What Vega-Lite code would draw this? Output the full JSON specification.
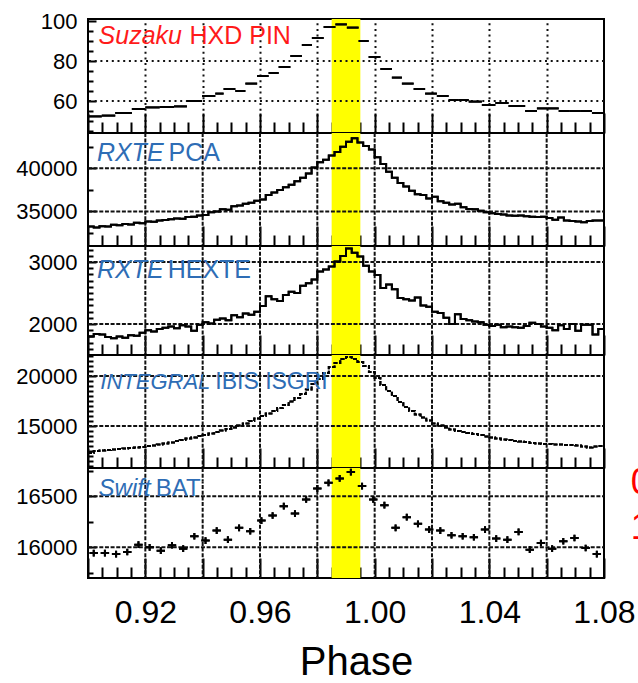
{
  "$schema": "https://vega.github.io/schema/vega-lite/v6.json",
  "padding": {"left": 14, "top": 9, "right": 0, "bottom": 0},
  "spacing": 0,
  "bounds": "flush",
  "config": {
    "view": {"stroke": "black", "strokeWidth": 2},
    "font": "Liberation Sans",
    "axis": {
      "domain": false,
      "grid": false,
      "tickColor": "black",
      "labelColor": "black",
      "labelFont": "Liberation Sans",
      "titleFont": "Liberation Sans",
      "zindex": 1,
      "labelOverlap": false,
      "labelFlush": false,
      "labelBound": false
    }
  },
  "datasets": {
    "band": [{"lo": 0.985, "hi": 0.995}],
    "suzaku": [
      {"lo": 0.9, "hi": 0.9048, "v": 52.3}, {"lo": 0.9048, "hi": 0.9095, "v": 52.7},
      {"lo": 0.9095, "hi": 0.9153, "v": 54}, {"lo": 0.9153, "hi": 0.92, "v": 56},
      {"lo": 0.92, "hi": 0.925, "v": 56.8}, {"lo": 0.925, "hi": 0.93, "v": 57},
      {"lo": 0.93, "hi": 0.9345, "v": 57.3}, {"lo": 0.9345, "hi": 0.9398, "v": 60},
      {"lo": 0.9398, "hi": 0.9444, "v": 62.5}, {"lo": 0.9444, "hi": 0.9473, "v": 63.7},
      {"lo": 0.9473, "hi": 0.9514, "v": 66}, {"lo": 0.9514, "hi": 0.9549, "v": 65},
      {"lo": 0.9549, "hi": 0.959, "v": 68.7}, {"lo": 0.959, "hi": 0.963, "v": 72.5},
      {"lo": 0.963, "hi": 0.9665, "v": 74}, {"lo": 0.9665, "hi": 0.9706, "v": 77},
      {"lo": 0.9706, "hi": 0.9746, "v": 82.5}, {"lo": 0.9746, "hi": 0.9781, "v": 88},
      {"lo": 0.9781, "hi": 0.9822, "v": 91.5}, {"lo": 0.9822, "hi": 0.9863, "v": 97},
      {"lo": 0.9863, "hi": 0.9903, "v": 98.3}, {"lo": 0.9903, "hi": 0.9944, "v": 96.7},
      {"lo": 0.9944, "hi": 0.9979, "v": 90}, {"lo": 0.9979, "hi": 1.002, "v": 82},
      {"lo": 1.002, "hi": 1.006, "v": 76}, {"lo": 1.006, "hi": 1.0095, "v": 71.7},
      {"lo": 1.0095, "hi": 1.0136, "v": 68.7}, {"lo": 1.0136, "hi": 1.0176, "v": 66},
      {"lo": 1.0176, "hi": 1.0217, "v": 63.7}, {"lo": 1.0217, "hi": 1.0258, "v": 62.5},
      {"lo": 1.0258, "hi": 1.0293, "v": 60.5}, {"lo": 1.0293, "hi": 1.0328, "v": 60.5},
      {"lo": 1.0328, "hi": 1.0374, "v": 59.7}, {"lo": 1.0374, "hi": 1.0421, "v": 58},
      {"lo": 1.0421, "hi": 1.0467, "v": 59}, {"lo": 1.0467, "hi": 1.0525, "v": 57.5},
      {"lo": 1.0525, "hi": 1.0566, "v": 55}, {"lo": 1.0566, "hi": 1.0604, "v": 56.3},
      {"lo": 1.0604, "hi": 1.0642, "v": 56.3}, {"lo": 1.0642, "hi": 1.068, "v": 55},
      {"lo": 1.068, "hi": 1.0719, "v": 55}, {"lo": 1.0719, "hi": 1.0758, "v": 55},
      {"lo": 1.0758, "hi": 1.08, "v": 54}
    ],
    "pca": [
      {"p": 0.900, "v": 33250}, {"p": 0.902, "v": 33150}, {"p": 0.904, "v": 33300}, {"p": 0.906, "v": 33250},
      {"p": 0.908, "v": 33450}, {"p": 0.910, "v": 33400}, {"p": 0.912, "v": 33550}, {"p": 0.914, "v": 33500},
      {"p": 0.916, "v": 33700}, {"p": 0.918, "v": 33650}, {"p": 0.920, "v": 33850}, {"p": 0.922, "v": 33800},
      {"p": 0.924, "v": 33950}, {"p": 0.926, "v": 34000}, {"p": 0.928, "v": 34100}, {"p": 0.930, "v": 34200},
      {"p": 0.932, "v": 34150}, {"p": 0.934, "v": 34350}, {"p": 0.936, "v": 34400}, {"p": 0.938, "v": 34550},
      {"p": 0.940, "v": 34600}, {"p": 0.942, "v": 34900}, {"p": 0.944, "v": 35000}, {"p": 0.946, "v": 35250},
      {"p": 0.948, "v": 35200}, {"p": 0.950, "v": 35600}, {"p": 0.952, "v": 35700}, {"p": 0.954, "v": 35900},
      {"p": 0.956, "v": 36000}, {"p": 0.958, "v": 36250}, {"p": 0.960, "v": 36400}, {"p": 0.962, "v": 36900},
      {"p": 0.964, "v": 37200}, {"p": 0.966, "v": 37500}, {"p": 0.968, "v": 37800}, {"p": 0.970, "v": 38100},
      {"p": 0.972, "v": 38500}, {"p": 0.974, "v": 38900}, {"p": 0.976, "v": 39400}, {"p": 0.978, "v": 40100},
      {"p": 0.980, "v": 40700}, {"p": 0.982, "v": 41000}, {"p": 0.984, "v": 41500}, {"p": 0.986, "v": 41900},
      {"p": 0.988, "v": 42500}, {"p": 0.990, "v": 43100}, {"p": 0.992, "v": 43500}, {"p": 0.994, "v": 43000},
      {"p": 0.996, "v": 42600}, {"p": 0.998, "v": 42200}, {"p": 1.000, "v": 41300}, {"p": 1.002, "v": 40500},
      {"p": 1.004, "v": 39600}, {"p": 1.006, "v": 38900}, {"p": 1.008, "v": 38300}, {"p": 1.010, "v": 37900},
      {"p": 1.012, "v": 37400}, {"p": 1.014, "v": 37000}, {"p": 1.016, "v": 36900}, {"p": 1.018, "v": 36500},
      {"p": 1.020, "v": 36700}, {"p": 1.022, "v": 36200}, {"p": 1.024, "v": 36000}, {"p": 1.026, "v": 35800},
      {"p": 1.028, "v": 35900}, {"p": 1.030, "v": 35500}, {"p": 1.032, "v": 35300}, {"p": 1.034, "v": 35250},
      {"p": 1.036, "v": 35100}, {"p": 1.038, "v": 34900}, {"p": 1.040, "v": 34800}, {"p": 1.042, "v": 34700},
      {"p": 1.044, "v": 34650}, {"p": 1.046, "v": 34550}, {"p": 1.048, "v": 34500}, {"p": 1.050, "v": 34550},
      {"p": 1.052, "v": 34450}, {"p": 1.054, "v": 34400}, {"p": 1.056, "v": 34350}, {"p": 1.058, "v": 34400},
      {"p": 1.060, "v": 34250}, {"p": 1.062, "v": 34050}, {"p": 1.064, "v": 34300}, {"p": 1.066, "v": 33950},
      {"p": 1.068, "v": 33900}, {"p": 1.070, "v": 33850}, {"p": 1.072, "v": 33750}, {"p": 1.074, "v": 33900},
      {"p": 1.076, "v": 33950}, {"p": 1.078, "v": 33950}, {"p": 1.080, "v": 33950}
    ],
    "hexte": [
      {"p": 0.900, "v": 1800}, {"p": 0.902, "v": 1840}, {"p": 0.904, "v": 1830}, {"p": 0.906, "v": 1790},
      {"p": 0.908, "v": 1770}, {"p": 0.910, "v": 1800}, {"p": 0.912, "v": 1780}, {"p": 0.914, "v": 1820},
      {"p": 0.916, "v": 1810}, {"p": 0.918, "v": 1860}, {"p": 0.920, "v": 1900}, {"p": 0.922, "v": 1880},
      {"p": 0.924, "v": 1920}, {"p": 0.926, "v": 1940}, {"p": 0.928, "v": 1960}, {"p": 0.930, "v": 1930},
      {"p": 0.932, "v": 1980}, {"p": 0.934, "v": 1960}, {"p": 0.936, "v": 1890}, {"p": 0.938, "v": 1990},
      {"p": 0.940, "v": 2030}, {"p": 0.942, "v": 2010}, {"p": 0.944, "v": 2070}, {"p": 0.946, "v": 2090},
      {"p": 0.948, "v": 2060}, {"p": 0.950, "v": 2140}, {"p": 0.952, "v": 2110}, {"p": 0.954, "v": 2170},
      {"p": 0.956, "v": 2150}, {"p": 0.958, "v": 2200}, {"p": 0.960, "v": 2290}, {"p": 0.962, "v": 2450},
      {"p": 0.964, "v": 2400}, {"p": 0.966, "v": 2370}, {"p": 0.968, "v": 2470}, {"p": 0.970, "v": 2520},
      {"p": 0.972, "v": 2500}, {"p": 0.974, "v": 2620}, {"p": 0.976, "v": 2660}, {"p": 0.978, "v": 2720},
      {"p": 0.980, "v": 2850}, {"p": 0.982, "v": 2880}, {"p": 0.984, "v": 2930}, {"p": 0.986, "v": 3010},
      {"p": 0.988, "v": 3100}, {"p": 0.990, "v": 3220}, {"p": 0.992, "v": 3150}, {"p": 0.994, "v": 3090},
      {"p": 0.996, "v": 2940}, {"p": 0.998, "v": 2850}, {"p": 1.000, "v": 2790}, {"p": 1.002, "v": 2580},
      {"p": 1.004, "v": 2640}, {"p": 1.006, "v": 2560}, {"p": 1.008, "v": 2420}, {"p": 1.010, "v": 2400},
      {"p": 1.012, "v": 2380}, {"p": 1.014, "v": 2430}, {"p": 1.016, "v": 2300}, {"p": 1.018, "v": 2280},
      {"p": 1.020, "v": 2200}, {"p": 1.022, "v": 2180}, {"p": 1.024, "v": 2100}, {"p": 1.026, "v": 2000},
      {"p": 1.028, "v": 2160}, {"p": 1.030, "v": 2080}, {"p": 1.032, "v": 2060}, {"p": 1.034, "v": 2040},
      {"p": 1.036, "v": 2030}, {"p": 1.038, "v": 1990}, {"p": 1.040, "v": 1970}, {"p": 1.042, "v": 1990},
      {"p": 1.044, "v": 1950}, {"p": 1.046, "v": 1960}, {"p": 1.048, "v": 1950}, {"p": 1.050, "v": 1940},
      {"p": 1.052, "v": 1970}, {"p": 1.054, "v": 2020}, {"p": 1.056, "v": 2000}, {"p": 1.058, "v": 1960},
      {"p": 1.060, "v": 1940}, {"p": 1.062, "v": 1900}, {"p": 1.064, "v": 1980}, {"p": 1.066, "v": 1920},
      {"p": 1.068, "v": 2000}, {"p": 1.070, "v": 1890}, {"p": 1.072, "v": 1990}, {"p": 1.074, "v": 1990},
      {"p": 1.076, "v": 1830}, {"p": 1.078, "v": 1920}, {"p": 1.080, "v": 1930}
    ],
    "integral": [
      {"p": 0.900, "v": 12300}, {"p": 0.902, "v": 12500}, {"p": 0.904, "v": 12550}, {"p": 0.906, "v": 12600},
      {"p": 0.908, "v": 12650}, {"p": 0.910, "v": 12700}, {"p": 0.912, "v": 12750}, {"p": 0.914, "v": 12800},
      {"p": 0.916, "v": 12850}, {"p": 0.918, "v": 12900}, {"p": 0.920, "v": 13000}, {"p": 0.922, "v": 13050},
      {"p": 0.924, "v": 13150}, {"p": 0.926, "v": 13250}, {"p": 0.928, "v": 13350}, {"p": 0.930, "v": 13500},
      {"p": 0.932, "v": 13600}, {"p": 0.934, "v": 13750}, {"p": 0.936, "v": 13850}, {"p": 0.938, "v": 14000},
      {"p": 0.940, "v": 14100}, {"p": 0.942, "v": 14250}, {"p": 0.944, "v": 14400}, {"p": 0.946, "v": 14550},
      {"p": 0.948, "v": 14700}, {"p": 0.950, "v": 14850}, {"p": 0.952, "v": 15050}, {"p": 0.954, "v": 15250},
      {"p": 0.956, "v": 15500}, {"p": 0.958, "v": 15750}, {"p": 0.960, "v": 16000}, {"p": 0.962, "v": 16250},
      {"p": 0.964, "v": 16500}, {"p": 0.966, "v": 16800}, {"p": 0.968, "v": 17100}, {"p": 0.970, "v": 17450},
      {"p": 0.972, "v": 17800}, {"p": 0.974, "v": 18200}, {"p": 0.976, "v": 18650}, {"p": 0.978, "v": 19200},
      {"p": 0.980, "v": 19700}, {"p": 0.982, "v": 20300}, {"p": 0.984, "v": 20900}, {"p": 0.986, "v": 21300},
      {"p": 0.988, "v": 21700}, {"p": 0.990, "v": 21900}, {"p": 0.992, "v": 21700}, {"p": 0.994, "v": 21400},
      {"p": 0.996, "v": 21000}, {"p": 0.998, "v": 20400}, {"p": 1.000, "v": 19800}, {"p": 1.002, "v": 19100},
      {"p": 1.004, "v": 18500}, {"p": 1.006, "v": 18000}, {"p": 1.008, "v": 17400}, {"p": 1.010, "v": 16900},
      {"p": 1.012, "v": 16500}, {"p": 1.014, "v": 16150}, {"p": 1.016, "v": 15850}, {"p": 1.018, "v": 15550},
      {"p": 1.020, "v": 15250}, {"p": 1.022, "v": 15050}, {"p": 1.024, "v": 14850}, {"p": 1.026, "v": 14650},
      {"p": 1.028, "v": 14500}, {"p": 1.030, "v": 14400}, {"p": 1.032, "v": 14300}, {"p": 1.034, "v": 14200},
      {"p": 1.036, "v": 14100}, {"p": 1.038, "v": 13950}, {"p": 1.040, "v": 13850}, {"p": 1.042, "v": 13750},
      {"p": 1.044, "v": 13650}, {"p": 1.046, "v": 13600}, {"p": 1.048, "v": 13500}, {"p": 1.050, "v": 13450},
      {"p": 1.052, "v": 13400}, {"p": 1.054, "v": 13300}, {"p": 1.056, "v": 13250}, {"p": 1.058, "v": 13200},
      {"p": 1.060, "v": 13200}, {"p": 1.062, "v": 13150}, {"p": 1.064, "v": 13150}, {"p": 1.066, "v": 13100},
      {"p": 1.068, "v": 13100}, {"p": 1.070, "v": 13050}, {"p": 1.072, "v": 12950}, {"p": 1.074, "v": 12850},
      {"p": 1.076, "v": 12950}, {"p": 1.078, "v": 13000}, {"p": 1.080, "v": 13000}
    ],
    "bat": [
      {"p": 0.902, "v": 15944}, {"p": 0.9059, "v": 15944}, {"p": 0.9098, "v": 15934}, {"p": 0.9137, "v": 15954},
      {"p": 0.9176, "v": 16026}, {"p": 0.9215, "v": 16000}, {"p": 0.9254, "v": 15967}, {"p": 0.9293, "v": 16020},
      {"p": 0.9332, "v": 15987}, {"p": 0.9371, "v": 16108}, {"p": 0.941, "v": 16066}, {"p": 0.9449, "v": 16163},
      {"p": 0.9488, "v": 16075}, {"p": 0.9527, "v": 16190}, {"p": 0.9566, "v": 16157}, {"p": 0.9605, "v": 16261},
      {"p": 0.9644, "v": 16311}, {"p": 0.9683, "v": 16402}, {"p": 0.9722, "v": 16330}, {"p": 0.9761, "v": 16467},
      {"p": 0.98, "v": 16575}, {"p": 0.9839, "v": 16630}, {"p": 0.9878, "v": 16673}, {"p": 0.9917, "v": 16735},
      {"p": 0.9956, "v": 16598}, {"p": 0.9995, "v": 16467}, {"p": 1.0034, "v": 16412}, {"p": 1.0073, "v": 16190},
      {"p": 1.0112, "v": 16294}, {"p": 1.0151, "v": 16229}, {"p": 1.019, "v": 16173}, {"p": 1.0229, "v": 16163},
      {"p": 1.0268, "v": 16118}, {"p": 1.0307, "v": 16108}, {"p": 1.0346, "v": 16098}, {"p": 1.0385, "v": 16173},
      {"p": 1.0424, "v": 16085}, {"p": 1.0463, "v": 16075}, {"p": 1.0502, "v": 16150}, {"p": 1.0541, "v": 15977},
      {"p": 1.058, "v": 16042}, {"p": 1.0619, "v": 15987}, {"p": 1.0658, "v": 16059}, {"p": 1.0697, "v": 16091},
      {"p": 1.0736, "v": 15993}, {"p": 1.0775, "v": 15934}
    ]
  },
  "vconcat": [
    {
      "width": 516, "height": 114,
      "resolve": {"axis": {"x": "independent", "y": "independent"}},
      "layer": [
        {"data": {"name": "band"}, "mark": {"type": "rect", "color": "#FFFF00"},
         "encoding": {
           "x": {"field": "lo", "type": "quantitative", "scale": {"domain": [0.9, 1.08], "nice": false, "zero": false},
             "axis": {"orient": "bottom", "values": [0.92,0.94,0.96,0.98,1.0,1.02,1.04,1.06], "labels": false, "title": null, "tickSize": -114, "tickWidth": 2, "tickDash": [2, 3.7], "tickColor": "#111111"}},
           "x2": {"field": "hi"}}},
        {"mark": {"type": "rule", "color": "#111111", "strokeWidth": 2, "strokeDash": [2, 3.7]}, "data": {"values": [{}]},
         "encoding": {"y": {"datum": 60, "type": "quantitative", "axis": null, "scale": {"domain": [44, 101], "nice": false, "zero": false}}}},
        {"mark": {"type": "rule", "color": "#111111", "strokeWidth": 2, "strokeDash": [2, 3.7]}, "data": {"values": [{}]},
         "encoding": {"y": {"datum": 80, "type": "quantitative", "axis": null, "scale": {"domain": [44, 101], "nice": false, "zero": false}}}},
        {"data": {"name": "suzaku"}, "mark": {"type": "rule", "color": "black", "strokeWidth": 2},
         "encoding": {
           "x": {"field": "lo", "type": "quantitative", "scale": {"domain": [0.9, 1.08], "nice": false, "zero": false},
             "axis": {"orient": "bottom", "values": [0.9,0.92,0.94,0.96,0.98,1.0,1.02,1.04,1.06,1.08], "labels": false, "title": null, "tickSize": -20, "tickWidth": 2}},
           "x2": {"field": "hi"},
           "y": {"field": "v", "type": "quantitative", "scale": {"domain": [44, 101], "nice": false, "zero": false},
             "axis": {"orient": "left", "values": [60, 80, 100], "title": null, "tickSize": -8, "tickWidth": 2, "labelFontSize": 22, "labelPadding": 19}}}},
        {"data": {"name": "suzaku"}, "mark": {"type": "rule", "color": "black", "strokeWidth": 2},
         "encoding": {
           "x": {"field": "lo", "type": "quantitative", "scale": {"domain": [0.9, 1.08], "nice": false, "zero": false},
             "axis": {"orient": "bottom", "values": [0.905,0.91,0.915,0.925,0.93,0.935,0.945,0.95,0.955,0.965,0.97,0.975,0.985,0.99,0.995,1.005,1.01,1.015,1.025,1.03,1.035,1.045,1.05,1.055,1.065,1.07,1.075], "labels": false, "title": null, "tickSize": -11, "tickWidth": 2}},
           "x2": {"field": "hi"},
           "y": {"field": "v", "type": "quantitative", "scale": {"domain": [44, 101], "nice": false, "zero": false},
             "axis": {"orient": "left", "values": [45,50,55,65,70,75,85,90,95], "title": null, "labels": false, "tickSize": -5, "tickWidth": 2}}}},
        {"data": {"values": [{}]}, "mark": {"type": "text", "align": "left", "baseline": "alphabetic", "fontSize": 25, "fontStyle": "italic", "color": "#FF1A1A"},
         "encoding": {"x": {"datum": 0.9037, "type": "quantitative", "axis": null, "scale": {"domain": [0.9, 1.08], "nice": false, "zero": false}},
           "y": {"datum": 88.3, "type": "quantitative", "axis": null, "scale": {"domain": [44, 101], "nice": false, "zero": false}},
           "text": {"value": "Suzaku"}}},
        {"data": {"values": [{}]}, "mark": {"type": "text", "align": "left", "baseline": "alphabetic", "fontSize": 25, "color": "#FF1A1A"},
         "encoding": {"x": {"datum": 0.9354, "type": "quantitative", "axis": null, "scale": {"domain": [0.9, 1.08], "nice": false, "zero": false}},
           "y": {"datum": 88.3, "type": "quantitative", "axis": null, "scale": {"domain": [44, 101], "nice": false, "zero": false}},
           "text": {"value": "HXD PIN"}}}
      ]
    },
    {
      "width": 516, "height": 113,
      "resolve": {"axis": {"x": "independent", "y": "independent"}},
      "layer": [
        {"data": {"name": "band"}, "mark": {"type": "rect", "color": "#FFFF00"},
         "encoding": {
           "x": {"field": "lo", "type": "quantitative", "axis": null, "scale": {"domain": [0.9, 1.08], "nice": false, "zero": false}},
           "x2": {"field": "hi"}}},
        {"mark": {"type": "rect", "filled": false, "color": "#111111", "strokeWidth": 2, "strokeDash": [2, 3.55]}, "data": {"values": [{}]}, "encoding": {"x": {"datum": 0.92, "type": "quantitative", "axis": null, "scale": {"domain": [0.9, 1.08], "nice": false, "zero": false}}, "x2": {"datum": 0.92}}},
        {"mark": {"type": "rect", "filled": false, "color": "#111111", "strokeWidth": 2, "strokeDash": [2, 3.55]}, "data": {"values": [{}]}, "encoding": {"x": {"datum": 0.94, "type": "quantitative", "axis": null, "scale": {"domain": [0.9, 1.08], "nice": false, "zero": false}}, "x2": {"datum": 0.94}}},
        {"mark": {"type": "rect", "filled": false, "color": "#111111", "strokeWidth": 2, "strokeDash": [2, 3.55]}, "data": {"values": [{}]}, "encoding": {"x": {"datum": 0.96, "type": "quantitative", "axis": null, "scale": {"domain": [0.9, 1.08], "nice": false, "zero": false}}, "x2": {"datum": 0.96}}},
        {"mark": {"type": "rect", "filled": false, "color": "#111111", "strokeWidth": 2, "strokeDash": [2, 3.55]}, "data": {"values": [{}]}, "encoding": {"x": {"datum": 0.98, "type": "quantitative", "axis": null, "scale": {"domain": [0.9, 1.08], "nice": false, "zero": false}}, "x2": {"datum": 0.98}}},
        {"mark": {"type": "rect", "filled": false, "color": "#111111", "strokeWidth": 2, "strokeDash": [2, 3.55]}, "data": {"values": [{}]}, "encoding": {"x": {"datum": 1.0, "type": "quantitative", "axis": null, "scale": {"domain": [0.9, 1.08], "nice": false, "zero": false}}, "x2": {"datum": 1.0}}},
        {"mark": {"type": "rect", "filled": false, "color": "#111111", "strokeWidth": 2, "strokeDash": [2, 3.55]}, "data": {"values": [{}]}, "encoding": {"x": {"datum": 1.02, "type": "quantitative", "axis": null, "scale": {"domain": [0.9, 1.08], "nice": false, "zero": false}}, "x2": {"datum": 1.02}}},
        {"mark": {"type": "rect", "filled": false, "color": "#111111", "strokeWidth": 2, "strokeDash": [2, 3.55]}, "data": {"values": [{}]}, "encoding": {"x": {"datum": 1.04, "type": "quantitative", "axis": null, "scale": {"domain": [0.9, 1.08], "nice": false, "zero": false}}, "x2": {"datum": 1.04}}},
        {"mark": {"type": "rect", "filled": false, "color": "#111111", "strokeWidth": 2, "strokeDash": [2, 3.55]}, "data": {"values": [{}]}, "encoding": {"x": {"datum": 1.06, "type": "quantitative", "axis": null, "scale": {"domain": [0.9, 1.08], "nice": false, "zero": false}}, "x2": {"datum": 1.06}}},
        {"mark": {"type": "rect", "filled": false, "color": "#111111", "strokeWidth": 2, "strokeDash": [2, 3.6484]}, "data": {"values": [{}]},
         "encoding": {"y": {"datum": 35000, "type": "quantitative", "axis": null, "scale": {"domain": [31000, 44100], "nice": false, "zero": false}}, "y2": {"datum": 35000}}},
        {"mark": {"type": "rect", "filled": false, "color": "#111111", "strokeWidth": 2, "strokeDash": [2, 3.6484]}, "data": {"values": [{}]},
         "encoding": {"y": {"datum": 40000, "type": "quantitative", "axis": null, "scale": {"domain": [31000, 44100], "nice": false, "zero": false}}, "y2": {"datum": 40000}}},
        {"data": {"name": "pca"}, "mark": {"type": "line", "interpolate": "step-after", "color": "black", "strokeWidth": 2},
         "encoding": {
           "x": {"field": "p", "type": "quantitative", "scale": {"domain": [0.9, 1.08], "nice": false, "zero": false},
             "axis": {"orient": "bottom", "values": [0.9,0.92,0.94,0.96,0.98,1.0,1.02,1.04,1.06,1.08], "labels": false, "title": null, "tickSize": -20, "tickWidth": 2}},
           "y": {"field": "v", "type": "quantitative", "scale": {"domain": [31000, 44100], "nice": false, "zero": false},
             "axis": {"orient": "left", "values": [35000, 40000], "format": "d", "title": null, "tickSize": -8, "tickWidth": 2, "labelFontSize": 22, "labelPadding": 19}}}},
        {"data": {"name": "pca"}, "mark": {"type": "line", "interpolate": "step-after", "color": "black", "strokeWidth": 2},
         "encoding": {
           "x": {"field": "p", "type": "quantitative", "scale": {"domain": [0.9, 1.08], "nice": false, "zero": false},
             "axis": {"orient": "bottom", "values": [0.905,0.91,0.915,0.925,0.93,0.935,0.945,0.95,0.955,0.965,0.97,0.975,0.985,0.99,0.995,1.005,1.01,1.015,1.025,1.03,1.035,1.045,1.05,1.055,1.065,1.07,1.075], "labels": false, "title": null, "tickSize": -11, "tickWidth": 2}},
           "y": {"field": "v", "type": "quantitative", "scale": {"domain": [31000, 44100], "nice": false, "zero": false},
             "axis": {"orient": "left", "values": [32500, 37500, 42500], "title": null, "labels": false, "tickSize": -5, "tickWidth": 2}}}},
        {"data": {"values": [{}]}, "mark": {"type": "text", "align": "left", "baseline": "alphabetic", "fontSize": 25, "fontStyle": "italic", "color": "#2E6DB5"},
         "encoding": {"x": {"datum": 0.9031, "type": "quantitative", "axis": null, "scale": {"domain": [0.9, 1.08], "nice": false, "zero": false}},
           "y": {"datum": 40855, "type": "quantitative", "axis": null, "scale": {"domain": [31000, 44100], "nice": false, "zero": false}},
           "text": {"value": "RXTE"}}},
        {"data": {"values": [{}]}, "mark": {"type": "text", "align": "left", "baseline": "alphabetic", "fontSize": 25, "color": "#2E6DB5"},
         "encoding": {"x": {"datum": 0.9281, "type": "quantitative", "axis": null, "scale": {"domain": [0.9, 1.08], "nice": false, "zero": false}},
           "y": {"datum": 40855, "type": "quantitative", "axis": null, "scale": {"domain": [31000, 44100], "nice": false, "zero": false}},
           "text": {"value": "PCA"}}}
      ]
    },
    {
      "width": 516, "height": 109,
      "resolve": {"axis": {"x": "independent", "y": "independent"}},
      "layer": [
        {"data": {"name": "band"}, "mark": {"type": "rect", "color": "#FFFF00"},
         "encoding": {
           "x": {"field": "lo", "type": "quantitative", "axis": null, "scale": {"domain": [0.9, 1.08], "nice": false, "zero": false}},
           "x2": {"field": "hi"}}},
        {"mark": {"type": "rect", "filled": false, "color": "#111111", "strokeWidth": 2, "strokeDash": [2, 3.6316]}, "data": {"values": [{}]}, "encoding": {"x": {"datum": 0.92, "type": "quantitative", "axis": null, "scale": {"domain": [0.9, 1.08], "nice": false, "zero": false}}, "x2": {"datum": 0.92}}},
        {"mark": {"type": "rect", "filled": false, "color": "#111111", "strokeWidth": 2, "strokeDash": [2, 3.6316]}, "data": {"values": [{}]}, "encoding": {"x": {"datum": 0.94, "type": "quantitative", "axis": null, "scale": {"domain": [0.9, 1.08], "nice": false, "zero": false}}, "x2": {"datum": 0.94}}},
        {"mark": {"type": "rect", "filled": false, "color": "#111111", "strokeWidth": 2, "strokeDash": [2, 3.6316]}, "data": {"values": [{}]}, "encoding": {"x": {"datum": 0.96, "type": "quantitative", "axis": null, "scale": {"domain": [0.9, 1.08], "nice": false, "zero": false}}, "x2": {"datum": 0.96}}},
        {"mark": {"type": "rect", "filled": false, "color": "#111111", "strokeWidth": 2, "strokeDash": [2, 3.6316]}, "data": {"values": [{}]}, "encoding": {"x": {"datum": 0.98, "type": "quantitative", "axis": null, "scale": {"domain": [0.9, 1.08], "nice": false, "zero": false}}, "x2": {"datum": 0.98}}},
        {"mark": {"type": "rect", "filled": false, "color": "#111111", "strokeWidth": 2, "strokeDash": [2, 3.6316]}, "data": {"values": [{}]}, "encoding": {"x": {"datum": 1.0, "type": "quantitative", "axis": null, "scale": {"domain": [0.9, 1.08], "nice": false, "zero": false}}, "x2": {"datum": 1.0}}},
        {"mark": {"type": "rect", "filled": false, "color": "#111111", "strokeWidth": 2, "strokeDash": [2, 3.6316]}, "data": {"values": [{}]}, "encoding": {"x": {"datum": 1.02, "type": "quantitative", "axis": null, "scale": {"domain": [0.9, 1.08], "nice": false, "zero": false}}, "x2": {"datum": 1.02}}},
        {"mark": {"type": "rect", "filled": false, "color": "#111111", "strokeWidth": 2, "strokeDash": [2, 3.6316]}, "data": {"values": [{}]}, "encoding": {"x": {"datum": 1.04, "type": "quantitative", "axis": null, "scale": {"domain": [0.9, 1.08], "nice": false, "zero": false}}, "x2": {"datum": 1.04}}},
        {"mark": {"type": "rect", "filled": false, "color": "#111111", "strokeWidth": 2, "strokeDash": [2, 3.6316]}, "data": {"values": [{}]}, "encoding": {"x": {"datum": 1.06, "type": "quantitative", "axis": null, "scale": {"domain": [0.9, 1.08], "nice": false, "zero": false}}, "x2": {"datum": 1.06}}},
        {"mark": {"type": "rect", "filled": false, "color": "#111111", "strokeWidth": 2, "strokeDash": [2, 3.6484]}, "data": {"values": [{}]},
         "encoding": {"y": {"datum": 2000, "type": "quantitative", "axis": null, "scale": {"domain": [1500, 3260], "nice": false, "zero": false}}, "y2": {"datum": 2000}}},
        {"mark": {"type": "rect", "filled": false, "color": "#111111", "strokeWidth": 2, "strokeDash": [2, 3.6484]}, "data": {"values": [{}]},
         "encoding": {"y": {"datum": 3000, "type": "quantitative", "axis": null, "scale": {"domain": [1500, 3260], "nice": false, "zero": false}}, "y2": {"datum": 3000}}},
        {"data": {"name": "hexte"}, "mark": {"type": "line", "interpolate": "step-after", "color": "black", "strokeWidth": 2},
         "encoding": {
           "x": {"field": "p", "type": "quantitative", "scale": {"domain": [0.9, 1.08], "nice": false, "zero": false},
             "axis": {"orient": "bottom", "values": [0.9,0.92,0.94,0.96,0.98,1.0,1.02,1.04,1.06,1.08], "labels": false, "title": null, "tickSize": -20, "tickWidth": 2}},
           "y": {"field": "v", "type": "quantitative", "scale": {"domain": [1500, 3260], "nice": false, "zero": false},
             "axis": {"orient": "left", "values": [2000, 3000], "format": "d", "title": null, "tickSize": -8, "tickWidth": 2, "labelFontSize": 22, "labelPadding": 19}}}},
        {"data": {"name": "hexte"}, "mark": {"type": "line", "interpolate": "step-after", "color": "black", "strokeWidth": 2},
         "encoding": {
           "x": {"field": "p", "type": "quantitative", "scale": {"domain": [0.9, 1.08], "nice": false, "zero": false},
             "axis": {"orient": "bottom", "values": [0.905,0.91,0.915,0.925,0.93,0.935,0.945,0.95,0.955,0.965,0.97,0.975,0.985,0.99,0.995,1.005,1.01,1.015,1.025,1.03,1.035,1.045,1.05,1.055,1.065,1.07,1.075], "labels": false, "title": null, "tickSize": -11, "tickWidth": 2}},
           "y": {"field": "v", "type": "quantitative", "scale": {"domain": [1500, 3260], "nice": false, "zero": false},
             "axis": {"orient": "left", "values": [1600,1700,1800,1900,2100,2200,2300,2400,2500,2600,2700,2800,2900,3100,3200], "title": null, "labels": false, "tickSize": -5, "tickWidth": 2}}}},
        {"data": {"values": [{}]}, "mark": {"type": "text", "align": "left", "baseline": "alphabetic", "fontSize": 25, "fontStyle": "italic", "color": "#2E6DB5"},
         "encoding": {"x": {"datum": 0.9031, "type": "quantitative", "axis": null, "scale": {"domain": [0.9, 1.08], "nice": false, "zero": false}},
           "y": {"datum": 2744, "type": "quantitative", "axis": null, "scale": {"domain": [1500, 3260], "nice": false, "zero": false}},
           "text": {"value": "RXTE"}}},
        {"data": {"values": [{}]}, "mark": {"type": "text", "align": "left", "baseline": "alphabetic", "fontSize": 25, "color": "#2E6DB5"},
         "encoding": {"x": {"datum": 0.9278, "type": "quantitative", "axis": null, "scale": {"domain": [0.9, 1.08], "nice": false, "zero": false}},
           "y": {"datum": 2744, "type": "quantitative", "axis": null, "scale": {"domain": [1500, 3260], "nice": false, "zero": false}},
           "text": {"value": "HEXTE"}}}
      ]
    },
    {
      "width": 516, "height": 113,
      "resolve": {"axis": {"x": "independent", "y": "independent"}},
      "layer": [
        {"data": {"name": "band"}, "mark": {"type": "rect", "color": "#FFFF00"},
         "encoding": {
           "x": {"field": "lo", "type": "quantitative", "axis": null, "scale": {"domain": [0.9, 1.08], "nice": false, "zero": false}},
           "x2": {"field": "hi"}}},
        {"mark": {"type": "rect", "filled": false, "color": "#111111", "strokeWidth": 2, "strokeDash": [2, 3.55]}, "data": {"values": [{}]}, "encoding": {"x": {"datum": 0.92, "type": "quantitative", "axis": null, "scale": {"domain": [0.9, 1.08], "nice": false, "zero": false}}, "x2": {"datum": 0.92}}},
        {"mark": {"type": "rect", "filled": false, "color": "#111111", "strokeWidth": 2, "strokeDash": [2, 3.55]}, "data": {"values": [{}]}, "encoding": {"x": {"datum": 0.94, "type": "quantitative", "axis": null, "scale": {"domain": [0.9, 1.08], "nice": false, "zero": false}}, "x2": {"datum": 0.94}}},
        {"mark": {"type": "rect", "filled": false, "color": "#111111", "strokeWidth": 2, "strokeDash": [2, 3.55]}, "data": {"values": [{}]}, "encoding": {"x": {"datum": 0.96, "type": "quantitative", "axis": null, "scale": {"domain": [0.9, 1.08], "nice": false, "zero": false}}, "x2": {"datum": 0.96}}},
        {"mark": {"type": "rect", "filled": false, "color": "#111111", "strokeWidth": 2, "strokeDash": [2, 3.55]}, "data": {"values": [{}]}, "encoding": {"x": {"datum": 0.98, "type": "quantitative", "axis": null, "scale": {"domain": [0.9, 1.08], "nice": false, "zero": false}}, "x2": {"datum": 0.98}}},
        {"mark": {"type": "rect", "filled": false, "color": "#111111", "strokeWidth": 2, "strokeDash": [2, 3.55]}, "data": {"values": [{}]}, "encoding": {"x": {"datum": 1.0, "type": "quantitative", "axis": null, "scale": {"domain": [0.9, 1.08], "nice": false, "zero": false}}, "x2": {"datum": 1.0}}},
        {"mark": {"type": "rect", "filled": false, "color": "#111111", "strokeWidth": 2, "strokeDash": [2, 3.55]}, "data": {"values": [{}]}, "encoding": {"x": {"datum": 1.02, "type": "quantitative", "axis": null, "scale": {"domain": [0.9, 1.08], "nice": false, "zero": false}}, "x2": {"datum": 1.02}}},
        {"mark": {"type": "rect", "filled": false, "color": "#111111", "strokeWidth": 2, "strokeDash": [2, 3.55]}, "data": {"values": [{}]}, "encoding": {"x": {"datum": 1.04, "type": "quantitative", "axis": null, "scale": {"domain": [0.9, 1.08], "nice": false, "zero": false}}, "x2": {"datum": 1.04}}},
        {"mark": {"type": "rect", "filled": false, "color": "#111111", "strokeWidth": 2, "strokeDash": [2, 3.55]}, "data": {"values": [{}]}, "encoding": {"x": {"datum": 1.06, "type": "quantitative", "axis": null, "scale": {"domain": [0.9, 1.08], "nice": false, "zero": false}}, "x2": {"datum": 1.06}}},
        {"mark": {"type": "rect", "filled": false, "color": "#111111", "strokeWidth": 2, "strokeDash": [2, 3.6484]}, "data": {"values": [{}]},
         "encoding": {"y": {"datum": 15000, "type": "quantitative", "axis": null, "scale": {"domain": [10800, 22100], "nice": false, "zero": false}}, "y2": {"datum": 15000}}},
        {"mark": {"type": "rect", "filled": false, "color": "#111111", "strokeWidth": 2, "strokeDash": [2, 3.6484]}, "data": {"values": [{}]},
         "encoding": {"y": {"datum": 20000, "type": "quantitative", "axis": null, "scale": {"domain": [10800, 22100], "nice": false, "zero": false}}, "y2": {"datum": 20000}}},
        {"data": {"name": "integral"}, "mark": {"type": "line", "interpolate": "step-after", "color": "black", "strokeWidth": 2, "strokeDash": [4, 1.5]},
         "encoding": {
           "x": {"field": "p", "type": "quantitative", "scale": {"domain": [0.9, 1.08], "nice": false, "zero": false},
             "axis": {"orient": "bottom", "values": [0.9,0.92,0.94,0.96,0.98,1.0,1.02,1.04,1.06,1.08], "labels": false, "title": null, "tickSize": -20, "tickWidth": 2}},
           "y": {"field": "v", "type": "quantitative", "scale": {"domain": [10800, 22100], "nice": false, "zero": false},
             "axis": {"orient": "left", "values": [15000, 20000], "format": "d", "title": null, "tickSize": -8, "tickWidth": 2, "labelFontSize": 22, "labelPadding": 19}}}},
        {"data": {"name": "integral"}, "mark": {"type": "line", "interpolate": "step-after", "color": "black", "strokeWidth": 2, "strokeDash": [4, 1.5]},
         "encoding": {
           "x": {"field": "p", "type": "quantitative", "scale": {"domain": [0.9, 1.08], "nice": false, "zero": false},
             "axis": {"orient": "bottom", "values": [0.905,0.91,0.915,0.925,0.93,0.935,0.945,0.95,0.955,0.965,0.97,0.975,0.985,0.99,0.995,1.005,1.01,1.015,1.025,1.03,1.035,1.045,1.05,1.055,1.065,1.07,1.075], "labels": false, "title": null, "tickSize": -11, "tickWidth": 2}},
           "y": {"field": "v", "type": "quantitative", "scale": {"domain": [10800, 22100], "nice": false, "zero": false},
             "axis": {"orient": "left", "values": [11000,11500,12000,12500,13000,13500,14000,14500,15500,16000,16500,17000,17500,18000,18500,19000,19500,20500,21000,21500,22000], "title": null, "labels": false, "tickSize": -5, "tickWidth": 2}}}},
        {"data": {"values": [{}]}, "mark": {"type": "text", "align": "left", "baseline": "alphabetic", "fontSize": 22, "fontStyle": "italic", "color": "#2E6DB5"},
         "encoding": {"x": {"datum": 0.9043, "type": "quantitative", "axis": null, "scale": {"domain": [0.9, 1.08], "nice": false, "zero": false}},
           "y": {"datum": 18670, "type": "quantitative", "axis": null, "scale": {"domain": [10800, 22100], "nice": false, "zero": false}},
           "text": {"value": "INTEGRAL"}}},
        {"data": {"values": [{}]}, "mark": {"type": "text", "align": "left", "baseline": "alphabetic", "fontSize": 23, "color": "#2E6DB5"},
         "encoding": {"x": {"datum": 0.9444, "type": "quantitative", "axis": null, "scale": {"domain": [0.9, 1.08], "nice": false, "zero": false}},
           "y": {"datum": 18670, "type": "quantitative", "axis": null, "scale": {"domain": [10800, 22100], "nice": false, "zero": false}},
           "text": {"value": "IBIS ISGRI"}}}
      ]
    },
    {
      "width": 516, "height": 110,
      "resolve": {"axis": {"x": "independent", "y": "independent"}},
      "layer": [
        {"data": {"name": "band"}, "mark": {"type": "rect", "color": "#FFFF00"},
         "encoding": {
           "x": {"field": "lo", "type": "quantitative", "axis": null, "scale": {"domain": [0.9, 1.08], "nice": false, "zero": false}},
           "x2": {"field": "hi"}}},
        {"mark": {"type": "rect", "filled": false, "color": "#111111", "strokeWidth": 2, "strokeDash": [2, 3.684]}, "data": {"values": [{}]}, "encoding": {"x": {"datum": 0.92, "type": "quantitative", "axis": null, "scale": {"domain": [0.9, 1.08], "nice": false, "zero": false}}, "x2": {"datum": 0.92}}},
        {"mark": {"type": "rect", "filled": false, "color": "#111111", "strokeWidth": 2, "strokeDash": [2, 3.684]}, "data": {"values": [{}]}, "encoding": {"x": {"datum": 0.94, "type": "quantitative", "axis": null, "scale": {"domain": [0.9, 1.08], "nice": false, "zero": false}}, "x2": {"datum": 0.94}}},
        {"mark": {"type": "rect", "filled": false, "color": "#111111", "strokeWidth": 2, "strokeDash": [2, 3.684]}, "data": {"values": [{}]}, "encoding": {"x": {"datum": 0.96, "type": "quantitative", "axis": null, "scale": {"domain": [0.9, 1.08], "nice": false, "zero": false}}, "x2": {"datum": 0.96}}},
        {"mark": {"type": "rect", "filled": false, "color": "#111111", "strokeWidth": 2, "strokeDash": [2, 3.684]}, "data": {"values": [{}]}, "encoding": {"x": {"datum": 0.98, "type": "quantitative", "axis": null, "scale": {"domain": [0.9, 1.08], "nice": false, "zero": false}}, "x2": {"datum": 0.98}}},
        {"mark": {"type": "rect", "filled": false, "color": "#111111", "strokeWidth": 2, "strokeDash": [2, 3.684]}, "data": {"values": [{}]}, "encoding": {"x": {"datum": 1.0, "type": "quantitative", "axis": null, "scale": {"domain": [0.9, 1.08], "nice": false, "zero": false}}, "x2": {"datum": 1.0}}},
        {"mark": {"type": "rect", "filled": false, "color": "#111111", "strokeWidth": 2, "strokeDash": [2, 3.684]}, "data": {"values": [{}]}, "encoding": {"x": {"datum": 1.02, "type": "quantitative", "axis": null, "scale": {"domain": [0.9, 1.08], "nice": false, "zero": false}}, "x2": {"datum": 1.02}}},
        {"mark": {"type": "rect", "filled": false, "color": "#111111", "strokeWidth": 2, "strokeDash": [2, 3.684]}, "data": {"values": [{}]}, "encoding": {"x": {"datum": 1.04, "type": "quantitative", "axis": null, "scale": {"domain": [0.9, 1.08], "nice": false, "zero": false}}, "x2": {"datum": 1.04}}},
        {"mark": {"type": "rect", "filled": false, "color": "#111111", "strokeWidth": 2, "strokeDash": [2, 3.684]}, "data": {"values": [{}]}, "encoding": {"x": {"datum": 1.06, "type": "quantitative", "axis": null, "scale": {"domain": [0.9, 1.08], "nice": false, "zero": false}}, "x2": {"datum": 1.06}}},
        {"mark": {"type": "rect", "filled": false, "color": "#111111", "strokeWidth": 2, "strokeDash": [2, 3.6484]}, "data": {"values": [{}]},
         "encoding": {"y": {"datum": 16000, "type": "quantitative", "axis": null, "scale": {"domain": [15700, 16775], "nice": false, "zero": false}}, "y2": {"datum": 16000}}},
        {"mark": {"type": "rect", "filled": false, "color": "#111111", "strokeWidth": 2, "strokeDash": [2, 3.6484]}, "data": {"values": [{}]},
         "encoding": {"y": {"datum": 16500, "type": "quantitative", "axis": null, "scale": {"domain": [15700, 16775], "nice": false, "zero": false}}, "y2": {"datum": 16500}}},
        {"data": {"name": "bat"}, "mark": {"type": "point", "shape": "M-1,0L1,0M0,-0.8L0,0.8", "filled": false, "color": "black", "strokeWidth": 2, "size": 70, "opacity": 1},
         "encoding": {
           "x": {"field": "p", "type": "quantitative", "scale": {"domain": [0.9, 1.08], "nice": false, "zero": false},
             "axis": {"orient": "bottom", "values": [0.9,0.92,0.94,0.96,0.98,1.0,1.02,1.04,1.06,1.08], "labels": true, "title": "Phase", "tickSize": -20, "tickWidth": 2,
               "labelFontSize": 32, "labelPadding": 39,
               "labelExpr": "round(datum.value*1000) % 40 == 0 ? format(datum.value, '.2f') : ''",
               "titleFontSize": 40, "titleFontWeight": "normal", "titleColor": "black", "titlePadding": 14, "titleX": 268}},
           "y": {"field": "v", "type": "quantitative", "scale": {"domain": [15700, 16775], "nice": false, "zero": false},
             "axis": {"orient": "left", "values": [16000, 16500], "format": "d", "title": null, "tickSize": -8, "tickWidth": 2, "labelFontSize": 22, "labelPadding": 19}}}},
        {"data": {"name": "bat"}, "mark": {"type": "point", "shape": "M-1,0L1,0M0,-0.8L0,0.8", "filled": false, "color": "black", "strokeWidth": 2, "size": 70, "opacity": 1},
         "encoding": {
           "x": {"field": "p", "type": "quantitative", "scale": {"domain": [0.9, 1.08], "nice": false, "zero": false},
             "axis": {"orient": "bottom", "values": [0.905,0.91,0.915,0.925,0.93,0.935,0.945,0.95,0.955,0.965,0.97,0.975,0.985,0.99,0.995,1.005,1.01,1.015,1.025,1.03,1.035,1.045,1.05,1.055,1.065,1.07,1.075], "labels": false, "title": null, "tickSize": -11, "tickWidth": 2}},
           "y": {"field": "v", "type": "quantitative", "scale": {"domain": [15700, 16775], "nice": false, "zero": false},
             "axis": {"orient": "left", "values": [15750, 16250, 16750], "title": null, "labels": false, "tickSize": -5, "tickWidth": 2}}}},
        {"data": {"values": [{}]}, "mark": {"type": "text", "align": "left", "baseline": "alphabetic", "fontSize": 24, "fontStyle": "italic", "color": "#2E6DB5"},
         "encoding": {"x": {"datum": 0.9037, "type": "quantitative", "axis": null, "scale": {"domain": [0.9, 1.08], "nice": false, "zero": false}},
           "y": {"datum": 16500, "type": "quantitative", "axis": null, "scale": {"domain": [15700, 16775], "nice": false, "zero": false}},
           "text": {"value": "Swift"}}},
        {"data": {"values": [{}]}, "mark": {"type": "text", "align": "left", "baseline": "alphabetic", "fontSize": 24, "color": "#2E6DB5"},
         "encoding": {"x": {"datum": 0.9236, "type": "quantitative", "axis": null, "scale": {"domain": [0.9, 1.08], "nice": false, "zero": false}},
           "y": {"datum": 16500, "type": "quantitative", "axis": null, "scale": {"domain": [15700, 16775], "nice": false, "zero": false}},
           "text": {"value": "BAT"}}},
        {"data": {"values": [{}]}, "mark": {"type": "text", "align": "left", "baseline": "alphabetic", "fontSize": 36, "color": "#FF0000"},
         "encoding": {"x": {"datum": 1.0893, "type": "quantitative", "axis": null, "scale": {"domain": [0.9, 1.08], "nice": false, "zero": false}},
           "y": {"datum": 16521, "type": "quantitative", "axis": null, "scale": {"domain": [15700, 16775], "nice": false, "zero": false}},
           "text": {"value": "0"}}},
        {"data": {"values": [{}]}, "mark": {"type": "text", "align": "left", "baseline": "alphabetic", "fontSize": 36, "color": "#FF0000"},
         "encoding": {"x": {"datum": 1.0893, "type": "quantitative", "axis": null, "scale": {"domain": [0.9, 1.08], "nice": false, "zero": false}},
           "y": {"datum": 16081, "type": "quantitative", "axis": null, "scale": {"domain": [15700, 16775], "nice": false, "zero": false}},
           "text": {"value": "1"}}}
      ]
    }
  ]
}
